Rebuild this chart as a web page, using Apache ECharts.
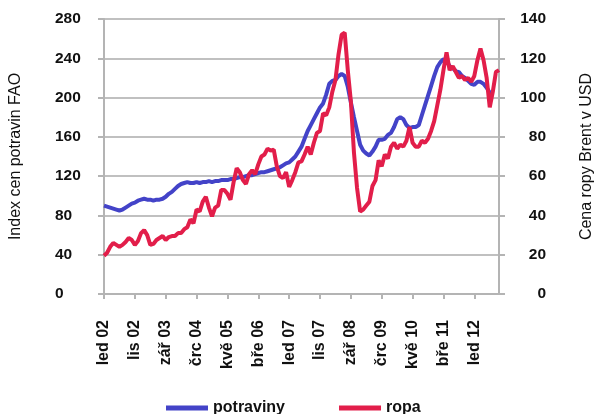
<!DOCTYPE html>
<html>
	<head>
		<meta charset="utf-8">
		<title>Index cen potravin FAO a cena ropy Brent</title>
		<style type="text/css">
			html, body{
				margin: 0;
				padding: 0;
				background: #fff;
			}
			#chart{
				width: 603px;
				height: 414px;
			}
		</style>
	</head>
	<body>
		<div id="chart"></div>

		<script src="https://cdn.jsdelivr.net/npm/echarts@6/dist/echarts.min.js"></script>
		<script>
			// měsíce a roky osy x (led 02 .. zář 12)
			var monthNames = ['led', 'úno', 'bře', 'dub', 'kvě', 'čer', 'črc', 'srp', 'zář', 'říj', 'lis', 'pro'];
			var firstYear = 2002;
			var monthCount = 129;

			// index cen potravin FAO (levá osa)
			var potraviny = [
				90, 89, 88, 87, 86, 85, 86, 88, 90, 92, 93, 95,
				96, 97, 96, 96, 95, 96, 96, 97, 99, 102, 104, 107,
				110, 112, 113, 114, 113, 113, 114, 113, 114, 114, 115, 114,
				115, 115, 116, 116, 116, 117, 117, 118, 119, 119, 120, 121,
				121, 122, 123, 124, 124, 125, 126, 127, 128, 129, 131, 133,
				134, 137, 140, 145, 150, 158, 166, 172, 178, 184, 190, 194,
				203, 214, 217, 218, 222, 224, 222, 211, 195, 180, 166, 152,
				146, 143, 141, 145, 150, 157, 157, 158, 162, 164, 170, 178,
				180, 178, 172, 169, 170, 170, 172, 182, 192, 202, 212, 222,
				231, 236, 239, 237, 232, 230, 227, 226, 222, 220, 217, 214,
				213, 216, 216, 214, 210, 205, 203, null, null
			];

			// cena ropy Brent v USD (pravá osa)
			var ropa = [
				19.5, 21, 24, 26, 25, 24, 25, 26.5, 28.5, 27.5, 25, 27,
				31, 32.5, 30, 25, 25.5, 27.5, 28.5, 29.5, 27.5, 29, 29.5, 29.5,
				31, 31, 33, 34, 38, 36, 43, 42, 47, 49.5, 44, 39.5,
				44, 45, 53, 53, 51, 48, 57, 64, 62, 58, 56, 61,
				63, 61, 66, 70, 71, 74, 73, 73.5, 65, 60, 59, 62,
				54.5, 58, 62, 67, 67.5, 71, 75, 71, 77, 82, 83, 92,
				91, 95, 103, 109, 122, 132, 133, 114, 98, 72, 54, 42,
				43, 45, 47, 55, 58, 68, 65, 71, 69, 75, 77, 74,
				76, 75, 78, 85, 77, 75, 75, 78, 77, 79, 83, 88,
				96, 104, 114, 123, 114, 116, 113, 110, 111, 109, 110, 108,
				111, 119, 125, 119, 110, 95, 103, 113, 114
			];

			var categories = [];
			for (var i = 0; i < monthCount; i++) {
				var yy = (firstYear + Math.floor(i / 12)) % 100;
				categories.push(monthNames[i % 12] + ' ' + (yy < 10 ? '0' + yy : '' + yy));
			}

			var font = 'Liberation Sans, Arial, sans-serif';
			var myChart = echarts.init(document.getElementById('chart'));

			var option = {
				animation: false,
				color: ['#4343C8', '#E21E4A'],
				textStyle: {
					fontFamily: font
				},
				legend: {
					data: ['potraviny', 'ropa'],
					left: 161,
					top: 395,
					icon: 'rect',
					itemWidth: 42,
					itemHeight: 5,
					itemGap: 54,
					textStyle: {
						fontFamily: font,
						fontSize: 16,
						fontWeight: 'bold',
						color: '#111'
					}
				},
				grid: {
					left: 101,
					right: 93,
					top: 19,
					bottom: 120
				},
				xAxis: {
					type: 'category',
					data: categories,
					boundaryGap: false,
					axisLine: {
						lineStyle: {
							color: '#b4b4b4',
							width: 2
						}
					},
					axisTick: {
						interval: 9,
						length: 5,
						lineStyle: {
							color: '#b4b4b4',
							width: 2
						}
					},
					axisLabel: {
						interval: 9,
						rotate: 90,
						margin: 26,
						fontFamily: font,
						fontSize: 16,
						fontWeight: 'bold',
						color: '#111'
					}
				},
				yAxis: [{
					type: 'value',
					min: 0,
					max: 280,
					interval: 40,
					name: 'Index cen potravin FAO',
					nameLocation: 'middle',
					nameRotate: 90,
					nameGap: 80,
					nameTextStyle: {
						fontFamily: font,
						fontSize: 16,
						color: '#111'
					},
					axisLine: {
						show: true,
						lineStyle: {
							color: '#b4b4b4',
							width: 2
						}
					},
					axisTick: {
						show: true,
						length: 6,
						lineStyle: {
							color: '#b4b4b4',
							width: 2
						}
					},
					axisLabel: {
						align: 'left',
						margin: 49,
						fontFamily: font,
						fontSize: 15.5,
						fontWeight: 'bold',
						color: '#111'
					},
					splitLine: {
						show: true,
						lineStyle: {
							color: '#c0c0c0',
							width: 2
						}
					}
				}, {
					type: 'value',
					min: 0,
					max: 140,
					interval: 20,
					position: 'right',
					name: 'Cena ropy Brent v USD',
					nameLocation: 'middle',
					nameRotate: 90,
					nameGap: 80,
					nameTextStyle: {
						fontFamily: font,
						fontSize: 16,
						color: '#111'
					},
					axisLine: {
						show: true,
						lineStyle: {
							color: '#b4b4b4',
							width: 2
						}
					},
					axisTick: {
						show: true,
						length: 6,
						lineStyle: {
							color: '#b4b4b4',
							width: 2
						}
					},
					axisLabel: {
						align: 'right',
						margin: 47,
						fontFamily: font,
						fontSize: 15.5,
						fontWeight: 'bold',
						color: '#111'
					},
					splitLine: {
						show: false
					}
				}],
				series: [{
					name: 'potraviny',
					type: 'line',
					yAxisIndex: 0,
					symbol: 'none',
					lineStyle: {
						width: 4
					},
					data: potraviny
				}, {
					name: 'ropa',
					type: 'line',
					yAxisIndex: 1,
					symbol: 'none',
					lineStyle: {
						width: 4
					},
					data: ropa
				}]
			};

			myChart.setOption(option);
		</script>
	</body>
</html>
